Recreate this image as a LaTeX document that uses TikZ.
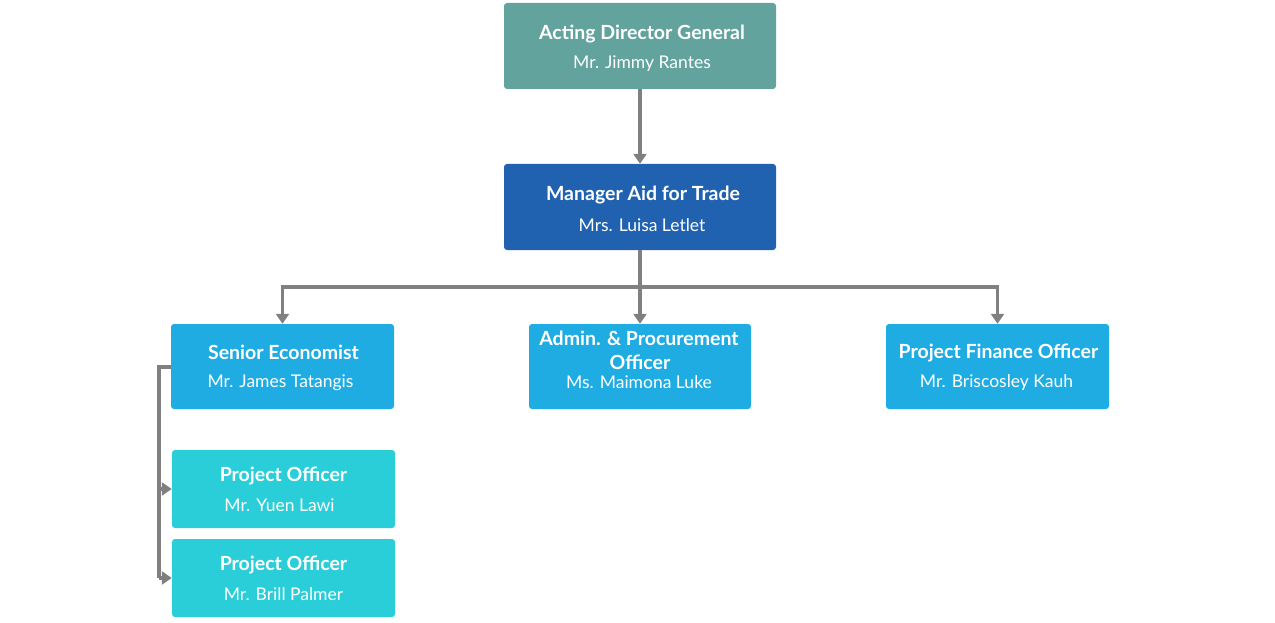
\documentclass[tikz,border=0pt]{standalone}
\usepackage{fontspec}
\setmainfont{Lato}
\usetikzlibrary{arrows.meta,calc}
\definecolor{cteal}{HTML}{62A39E}
\definecolor{cblue}{HTML}{2162B0}
\definecolor{csky}{HTML}{1FACE3}
\definecolor{ccyan}{HTML}{29CED8}
\definecolor{cline}{HTML}{808080}
\tikzset{
  box/.style={rounded corners=3pt, draw=none, inner sep=0pt},
  ttl/.style={text=white, font=\fontsize{19.5}{20}\selectfont\bfseries, inner sep=0pt},
  nm/.style={text=white, font=\fontsize{17.5}{18}\selectfont, inner sep=0pt},
  conn/.style={draw=cline, line width=3.5pt, -{Triangle[length=10pt,width=13pt]}},
  plain/.style={draw=cline, line width=3.5pt},
}
\begin{document}
\begin{tikzpicture}[x=1pt,y=-1pt]
\useasboundingbox (0,0) rectangle (1275,623);
% boxes
\node[box, fill=cteal, minimum width=272pt, minimum height=86pt] (adg) at (640,46) {};
\node[box, fill=cblue, minimum width=272pt, minimum height=86pt] (mgr) at (640,207) {};
\node[box, fill=csky, minimum width=223pt, minimum height=85pt] (se) at (282.5,366.5) {};
\node[box, fill=csky, minimum width=222pt, minimum height=85pt] (adm) at (640,366.5) {};
\node[box, fill=csky, minimum width=223pt, minimum height=85pt] (pfo) at (997.5,366.5) {};
\node[box, fill=ccyan, minimum width=223pt, minimum height=78pt] (po1) at (283.5,489) {};
\node[box, fill=ccyan, minimum width=223pt, minimum height=78pt] (po2) at (283.5,578) {};
% texts
\node[ttl] (adgt) at ($(adg)+(2,-12)$) {Acting Director General};
\node[nm] (adgn) at ($(adg)+(2,18)$) {Mr. Jimmy Rantes};
\node[ttl] (mgrt) at ($(mgr)+(3,-12)$) {Manager Aid for Trade};
\node[nm] (mgrn) at ($(mgr)+(2,18)$) {Mrs. Luisa Letlet};
\node[ttl] (set) at ($(se)+(1,-14)$) {Senior Economist};
\node[nm] (sen) at ($(se)+(-2,16)$) {Mr. James Tatangis};
\node[ttl] (admt1) at ($(adm)+(-1,-28)$) {Admin. \& Procurement};
\node[ttl] (admt2) at ($(adm)+(0,-4)$) {Officer};
\node[nm] (admn) at ($(adm)+(-1,16)$) {Ms. Maimona Luke};
\node[ttl] (pfot) at ($(pfo)+(1,-14)$) {Project Finance Officer};
\node[nm] (pfon) at ($(pfo)+(-1,16)$) {Mr. Briscosley Kauh};
\node[ttl] (po1t) at ($(po1)+(0,-13)$) {Project Officer};
\node[nm] (po1n) at ($(po1)+(-4,16)$) {Mr. Yuen Lawi};
\node[ttl] (po2t) at ($(po2)+(0,-13)$) {Project Officer};
\node[nm] (po2n) at ($(po2)+(0,16)$) {Mr. Brill Palmer};
% connectors
\coordinate (bus) at (640,287);
\coordinate (lft) at (159,367);
\draw[conn] (adg.south) -- (mgr.north);
\draw[plain] (mgr.south) -- (bus);
\draw[conn] (bus) -| (se.north);
\draw[conn] (bus) -- (adm.north);
\draw[conn] (bus) -| (pfo.north);
\draw[plain] (se.west |- lft) -- (lft) -- (lft |- po2.west);
\draw[conn] (lft |- po1.west) -- (po1.west);
\draw[conn] (lft |- po2.west) -- (po2.west);
\end{tikzpicture}
\end{document}
